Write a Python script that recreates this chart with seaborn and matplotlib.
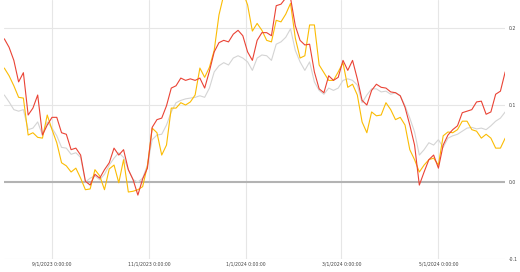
import matplotlib
matplotlib.use("Agg")
import matplotlib.pyplot as plt
import seaborn as sns
import pandas as pd

dates = pd.date_range("2023-08-02", periods=106, freq="3D")

red = [0.186, 0.175, 0.158, 0.130, 0.142, 0.087, 0.096, 0.113, 0.061, 0.074,
       0.084, 0.084, 0.064, 0.062, 0.042, 0.044, 0.035, 0.001, -0.004, 0.010,
       0.005, 0.016, 0.025, 0.044, 0.035, 0.042, 0.016, 0.003, -0.017, 0.004,
       0.018, 0.071, 0.081, 0.083, 0.099, 0.122, 0.125, 0.135, 0.132, 0.134,
       0.132, 0.135, 0.122, 0.144, 0.169, 0.181, 0.184, 0.182, 0.192, 0.197,
       0.190, 0.169, 0.158, 0.184, 0.194, 0.194, 0.190, 0.229, 0.231, 0.239,
       0.239, 0.203, 0.184, 0.178, 0.179, 0.143, 0.121, 0.116, 0.138, 0.132,
       0.136, 0.158, 0.145, 0.158, 0.134, 0.106, 0.100, 0.119, 0.127, 0.123,
       0.122, 0.117, 0.116, 0.112, 0.097, 0.074, 0.048, -0.004, 0.013, 0.029,
       0.035, 0.018, 0.048, 0.061, 0.068, 0.073, 0.090, 0.092, 0.094, 0.104,
       0.105, 0.088, 0.091, 0.114, 0.118, 0.143]

yellow = [0.148, 0.138, 0.125, 0.110, 0.109, 0.061, 0.064, 0.058, 0.057, 0.087,
          0.068, 0.051, 0.025, 0.021, 0.013, 0.018, 0.005, -0.010, -0.009, 0.016,
          0.008, -0.010, 0.017, 0.022, -0.001, 0.029, -0.013, -0.012, -0.010, -0.006,
          0.021, 0.070, 0.064, 0.035, 0.048, 0.096, 0.096, 0.103, 0.100, 0.104,
          0.113, 0.148, 0.136, 0.149, 0.171, 0.217, 0.243, 0.247, 0.249, 0.249,
          0.247, 0.230, 0.196, 0.206, 0.197, 0.184, 0.182, 0.210, 0.208, 0.218,
          0.232, 0.187, 0.161, 0.164, 0.204, 0.204, 0.152, 0.142, 0.132, 0.132,
          0.143, 0.155, 0.123, 0.127, 0.113, 0.078, 0.064, 0.091, 0.086, 0.087,
          0.103, 0.094, 0.081, 0.084, 0.074, 0.042, 0.029, 0.013, 0.022, 0.029,
          0.031, 0.022, 0.060, 0.065, 0.064, 0.068, 0.079, 0.079, 0.068, 0.066,
          0.057, 0.062, 0.057, 0.044, 0.044, 0.057]

gray = [0.113, 0.104, 0.094, 0.092, 0.094, 0.068, 0.070, 0.078, 0.061, 0.078,
        0.070, 0.060, 0.045, 0.044, 0.036, 0.038, 0.032, 0.000, 0.005, 0.008,
        0.003, 0.010, 0.022, 0.031, 0.038, 0.032, 0.016, 0.003, 0.000, 0.005,
        0.022, 0.055, 0.061, 0.062, 0.074, 0.091, 0.103, 0.106, 0.108, 0.109,
        0.110, 0.112, 0.110, 0.122, 0.143, 0.151, 0.155, 0.152, 0.161, 0.164,
        0.161, 0.156, 0.145, 0.161, 0.165, 0.164, 0.158, 0.179, 0.182, 0.188,
        0.199, 0.171, 0.156, 0.145, 0.156, 0.130, 0.119, 0.114, 0.122, 0.119,
        0.122, 0.132, 0.134, 0.132, 0.126, 0.103, 0.113, 0.121, 0.121, 0.117,
        0.118, 0.114, 0.116, 0.112, 0.099, 0.083, 0.065, 0.035, 0.042, 0.051,
        0.048, 0.055, 0.045, 0.057, 0.060, 0.062, 0.066, 0.070, 0.071, 0.069,
        0.070, 0.068, 0.073, 0.079, 0.083, 0.091]

series_names = ["gray", "yellow", "red"]
colors = {"gray": "#d4d4d4", "yellow": "#fbbc04", "red": "#ea4335"}

tick_dates = ["2023-09-01", "2023-11-01", "2024-01-01", "2024-03-01", "2024-05-01"]
tick_labels = ["9/1/2023 0:00:00", "11/1/2023 0:00:00", "1/1/2024 0:00:00",
               "3/1/2024 0:00:00", "5/1/2024 0:00:00"]
y_ticks = [-0.1, 0.0, 0.1, 0.2]
y_labels = ["-0.1", "0.0", "0.1", "0.2"]

df = pd.concat([
    pd.DataFrame({"date": dates, "value": gray, "series": "gray"}),
    pd.DataFrame({"date": dates, "value": yellow, "series": "yellow"}),
    pd.DataFrame({"date": dates, "value": red, "series": "red"}),
])

sns.set_style("white")
fig = plt.figure(figsize=(5.2, 2.72), dpi=100)
ax = fig.add_axes([4.3 / 520, 13 / 272, (505.2 - 4.3) / 520, 259 / 272])

for td in tick_dates:
    ax.axvline(pd.Timestamp(td), color="#e6e6e6", lw=0.8, zorder=0)
for yt in y_ticks:
    if yt != 0.0:
        ax.axhline(yt, color="#e6e6e6", lw=0.8, zorder=0)
ax.axhline(0.0, color="#b3b3b3", lw=1.5, zorder=1)

sns.lineplot(data=df, x="date", y="value", hue="series", hue_order=series_names,
             palette=colors, lw=0.8, legend=False, ax=ax, zorder=3)

ax.set_xlim(dates[0], dates[-1])
ax.set_ylim(-0.1, 0.2364)
ax.set_xticks([pd.Timestamp(t) for t in tick_dates])
ax.set_xticklabels(tick_labels, fontsize=3.3, color="#444444")
ax.yaxis.tick_right()
ax.set_yticks(y_ticks)
ax.set_yticklabels(y_labels, fontsize=3.3, color="#444444")
ax.tick_params(axis="both", length=0)
ax.tick_params(axis="x", pad=2)
ax.tick_params(axis="y", pad=2.5)
ax.set_xlabel("")
ax.set_ylabel("")
for s in ax.spines.values():
    s.set_visible(False)

fig.savefig("out.png", dpi=100)
